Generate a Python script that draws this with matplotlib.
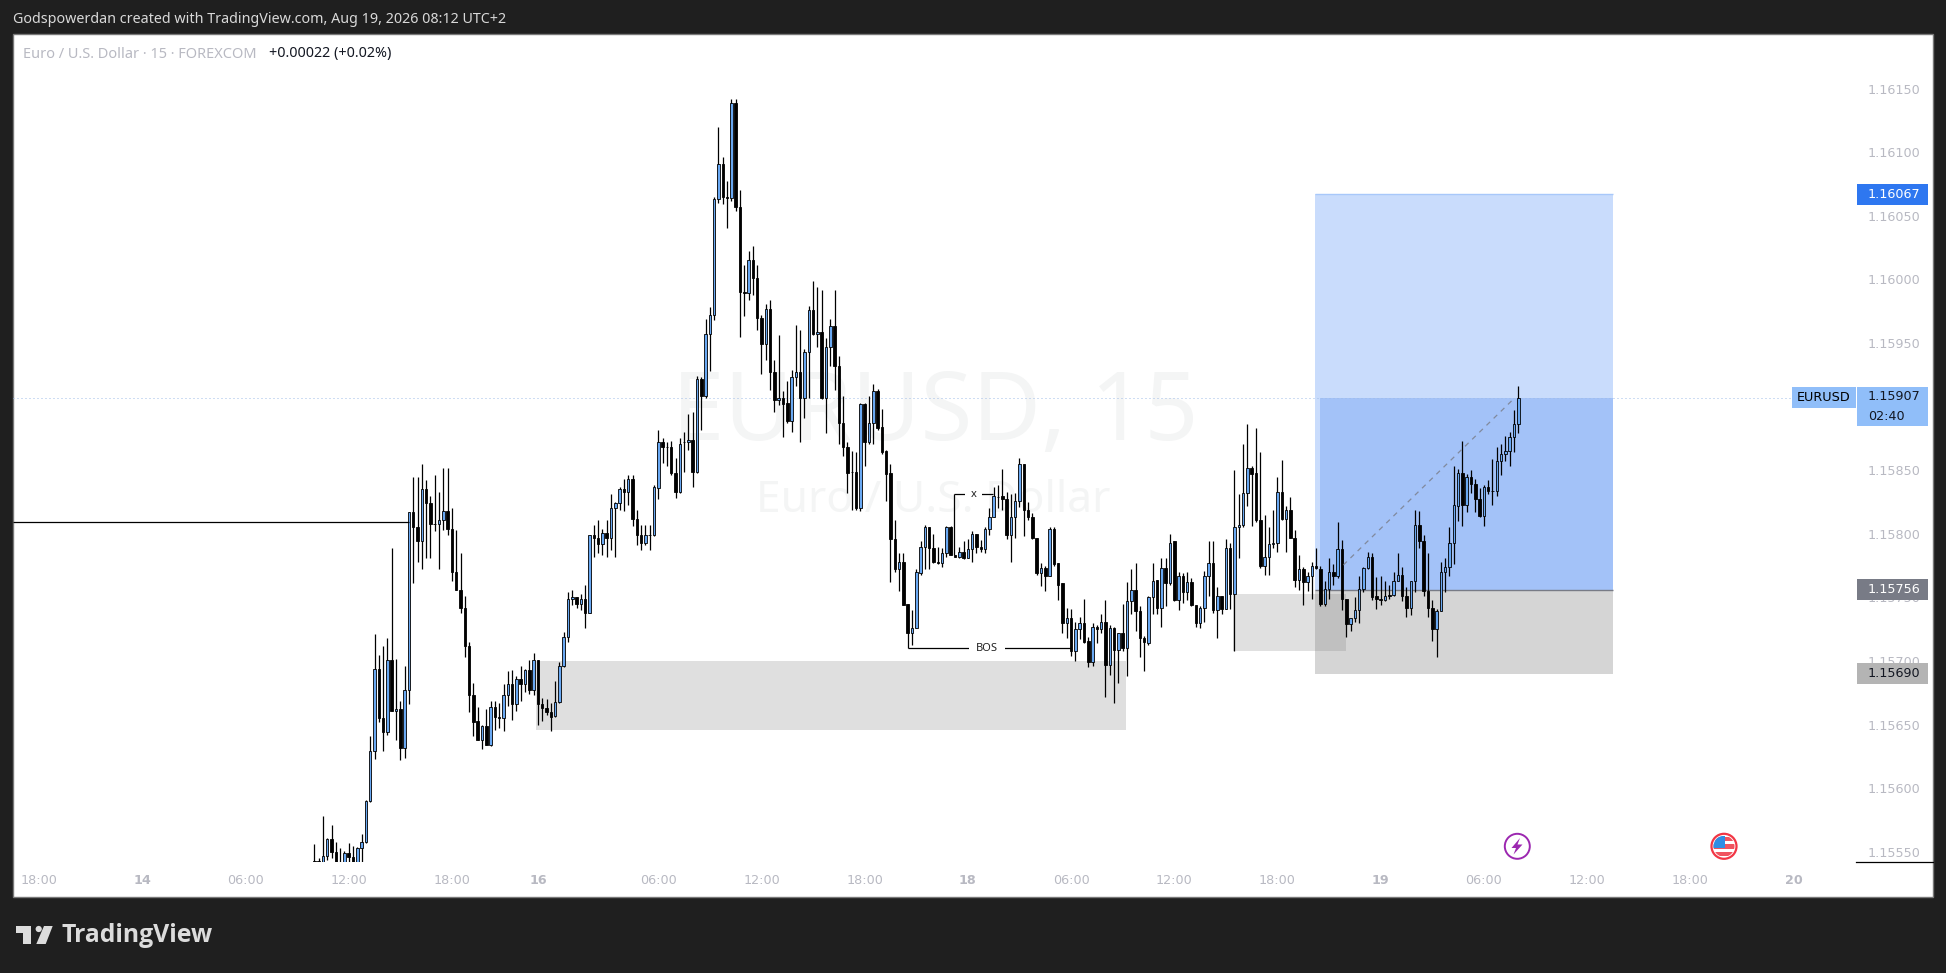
import numpy as np
import matplotlib
matplotlib.use('Agg')
import matplotlib.pyplot as plt
from matplotlib.patches import Rectangle, Polygon, Circle

plt.rcParams['font.family'] = ['Noto Sans', 'DejaVu Sans']

WIDTH, HEIGHT = 1946, 973

# prices in 1e-5 units, one entry per 15 minute bar
opens = [
    115543, 115543, 115535, 115547, 115560, 115550, 115537, 115538, 115549, 115546,
    115536, 115553, 115558, 115590, 115629, 115694, 115655, 115644, 115701, 115661,
    115662, 115632, 115677, 115817, 115805, 115794, 115835, 115824, 115808, 115808,
    115811, 115818, 115804, 115770, 115756, 115742, 115712, 115673, 115653, 115638,
    115649, 115634, 115664, 115656, 115655, 115673, 115682, 115666, 115686, 115682,
    115693, 115677, 115701, 115666, 115663, 115660, 115657, 115668, 115696, 115719,
    115749, 115750, 115745, 115749, 115738, 115799, 115797, 115792, 115801, 115797,
    115820, 115824, 115835, 115833, 115843, 115812, 115799, 115793, 115799, 115799,
    115836, 115872, 115868, 115868, 115848, 115833, 115872, 115872, 115874, 115849,
    115922, 115908, 115957, 115972, 116063, 116091, 116065, 116064, 116139, 116057,
    115990, 115989, 116015, 116001, 115970, 115949, 115977, 115927, 115905, 115907,
    115903, 115889, 115923, 115927, 115907, 115943, 115976, 115957, 115959, 115907,
    115947, 115963, 115932, 115887, 115868, 115849, 115849, 115820, 115902, 115872,
    115887, 115912, 115884, 115865, 115848, 115796, 115772, 115778, 115745, 115722,
    115726, 115769, 115790, 115805, 115789, 115778, 115777, 115785, 115805, 115783,
    115782, 115786, 115781, 115788, 115800, 115790, 115788, 115804, 115813, 115829,
    115830, 115827, 115799, 115813, 115826, 115855, 115819, 115813, 115797, 115769,
    115773, 115767, 115804, 115777, 115761, 115730, 115734, 115708, 115725, 115730,
    115716, 115699, 115727, 115725, 115731, 115697, 115726, 115709, 115722, 115710,
    115747, 115756, 115739, 115718, 115714, 115750, 115764, 115742, 115773, 115761,
    115794, 115748, 115767, 115754, 115762, 115744, 115730, 115742, 115767, 115777,
    115740, 115751, 115741, 115789, 115753, 115805, 115807, 115832, 115852, 115848,
    115811, 115775, 115782, 115792, 115793, 115833, 115812, 115819, 115797, 115764,
    115772, 115762, 115767, 115775, 115772, 115745, 115757, 115770, 115767, 115788,
    115749, 115729, 115734, 115740, 115757, 115773, 115782, 115751, 115749, 115748,
    115752, 115752, 115763, 115768, 115751, 115742, 115763, 115807, 115794, 115755,
    115742, 115725, 115739, 115770, 115774, 115793, 115822, 115848, 115823, 115845,
    115839, 115827, 115814, 115837, 115834, 115834, 115857, 115863, 115865, 115876,
    115886,
]
closes = [
    115542, 115542, 115547, 115560, 115550, 115537, 115538, 115549, 115546, 115536,
    115553, 115558, 115590, 115629, 115694, 115655, 115644, 115701, 115661, 115662,
    115632, 115677, 115817, 115805, 115794, 115835, 115824, 115808, 115808, 115811,
    115818, 115804, 115770, 115756, 115742, 115712, 115673, 115652, 115638, 115649,
    115634, 115664, 115656, 115655, 115673, 115682, 115666, 115686, 115682, 115693,
    115677, 115701, 115666, 115663, 115660, 115656, 115668, 115696, 115719, 115749,
    115750, 115745, 115749, 115738, 115799, 115797, 115792, 115801, 115797, 115820,
    115824, 115835, 115833, 115843, 115812, 115799, 115793, 115799, 115799, 115837,
    115872, 115868, 115868, 115848, 115833, 115871, 115872, 115874, 115849, 115922,
    115908, 115957, 115972, 116063, 116091, 116065, 116064, 116139, 116057, 115990,
    115989, 116015, 116001, 115970, 115949, 115977, 115927, 115905, 115907, 115902,
    115889, 115923, 115927, 115907, 115943, 115976, 115957, 115959, 115907, 115947,
    115963, 115932, 115887, 115868, 115848, 115849, 115820, 115902, 115872, 115887,
    115912, 115883, 115864, 115847, 115796, 115772, 115778, 115744, 115722, 115726,
    115770, 115790, 115805, 115789, 115778, 115777, 115785, 115805, 115783, 115782,
    115786, 115781, 115788, 115800, 115790, 115788, 115804, 115813, 115830, 115829,
    115827, 115799, 115813, 115826, 115855, 115819, 115813, 115797, 115769, 115773,
    115767, 115804, 115776, 115760, 115730, 115734, 115708, 115725, 115730, 115715,
    115699, 115727, 115725, 115731, 115697, 115726, 115709, 115722, 115710, 115747,
    115756, 115739, 115718, 115715, 115750, 115763, 115742, 115773, 115761, 115793,
    115748, 115767, 115754, 115762, 115744, 115730, 115742, 115767, 115777, 115740,
    115751, 115741, 115789, 115753, 115805, 115807, 115832, 115852, 115847, 115811,
    115775, 115782, 115792, 115793, 115833, 115812, 115819, 115797, 115764, 115772,
    115762, 115767, 115775, 115773, 115745, 115757, 115770, 115767, 115788, 115749,
    115729, 115734, 115740, 115757, 115773, 115782, 115750, 115749, 115748, 115751,
    115751, 115763, 115768, 115751, 115742, 115763, 115807, 115794, 115755, 115742,
    115725, 115739, 115770, 115774, 115793, 115823, 115848, 115823, 115845, 115839,
    115827, 115814, 115837, 115834, 115834, 115857, 115863, 115865, 115876, 115886,
    115907,
]
highs = [
    115556, 115545, 115578, 115561, 115571, 115558, 115553, 115551, 115557, 115555,
    115554, 115564, 115591, 115641, 115721, 115705, 115712, 115718, 115789, 115702,
    115669, 115696, 115817, 115845, 115845, 115855, 115842, 115830, 115846, 115833,
    115852, 115852, 115820, 115803, 115785, 115751, 115715, 115683, 115664, 115650,
    115662, 115669, 115669, 115667, 115682, 115692, 115693, 115688, 115696, 115694,
    115701, 115706, 115701, 115671, 115670, 115667, 115684, 115699, 115723, 115754,
    115756, 115750, 115753, 115760, 115799, 115807, 115811, 115804, 115811, 115831,
    115825, 115837, 115843, 115846, 115846, 115819, 115807, 115807, 115807, 115838,
    115882, 115875, 115872, 115873, 115860, 115875, 115880, 115894, 115896, 115924,
    115923, 115969, 115978, 116065, 116120, 116096, 116077, 116142, 116142, 116070,
    116011, 116022, 116026, 116011, 115972, 115981, 115984, 115937, 115956, 115912,
    115920, 115929, 115964, 115960, 115945, 115979, 115999, 115994, 115992, 115954,
    115969, 115992, 115940, 115908, 115872, 115865, 115864, 115903, 115903, 115908,
    115918, 115914, 115898, 115866, 115855, 115811, 115785, 115785, 115745, 115740,
    115772, 115794, 115807, 115805, 115800, 115790, 115789, 115806, 115806, 115783,
    115790, 115794, 115796, 115802, 115800, 115795, 115805, 115820, 115837, 115838,
    115851, 115833, 115831, 115832, 115860, 115855, 115825, 115816, 115797, 115777,
    115775, 115805, 115805, 115777, 115761, 115742, 115741, 115731, 115735, 115749,
    115719, 115730, 115728, 115737, 115748, 115728, 115727, 115722, 115745, 115762,
    115772, 115777, 115743, 115720, 115751, 115777, 115764, 115781, 115781, 115800,
    115794, 115770, 115769, 115770, 115765, 115744, 115743, 115771, 115794, 115794,
    115758, 115751, 115796, 115793, 115850, 115831, 115871, 115886, 115853, 115883,
    115864, 115815, 115805, 115819, 115845, 115858, 115822, 115829, 115803, 115783,
    115774, 115770, 115778, 115789, 115775, 115763, 115781, 115776, 115809, 115795,
    115749, 115734, 115750, 115767, 115774, 115786, 115785, 115766, 115767, 115763,
    115760, 115770, 115785, 115774, 115758, 115763, 115819, 115818, 115799, 115785,
    115748, 115741, 115778, 115781, 115805, 115853, 115851, 115873, 115847, 115850,
    115843, 115836, 115838, 115842, 115859, 115868, 115871, 115877, 115880, 115897,
    115916,
]
lows = [
    115541, 115540, 115530, 115544, 115545, 115530, 115530, 115532, 115535, 115530,
    115532, 115542, 115557, 115589, 115623, 115652, 115629, 115642, 115661, 115638,
    115622, 115624, 115666, 115761, 115778, 115772, 115781, 115781, 115802, 115772,
    115803, 115799, 115763, 115756, 115738, 115703, 115660, 115641, 115638, 115631,
    115634, 115633, 115646, 115647, 115645, 115665, 115654, 115661, 115669, 115676,
    115674, 115673, 115650, 115653, 115658, 115645, 115656, 115667, 115695, 115715,
    115744, 115742, 115740, 115726, 115738, 115782, 115785, 115783, 115782, 115787,
    115782, 115819, 115818, 115823, 115806, 115791, 115787, 115791, 115787, 115798,
    115827, 115856, 115853, 115846, 115828, 115832, 115849, 115866, 115837, 115848,
    115882, 115907, 115928, 115968, 116060, 116059, 116040, 116062, 116054, 115955,
    115971, 115984, 115988, 115960, 115926, 115937, 115913, 115896, 115901, 115876,
    115887, 115880, 115916, 115872, 115891, 115907, 115956, 115947, 115906, 115879,
    115932, 115913, 115871, 115861, 115832, 115819, 115819, 115818, 115853, 115871,
    115871, 115882, 115863, 115826, 115762, 115770, 115755, 115744, 115710, 115713,
    115726, 115768, 115772, 115772, 115777, 115776, 115774, 115782, 115783, 115782,
    115781, 115780, 115781, 115778, 115785, 115786, 115785, 115799, 115813, 115820,
    115819, 115796, 115778, 115797, 115821, 115798, 115811, 115796, 115768, 115759,
    115755, 115767, 115775, 115748, 115722, 115718, 115704, 115700, 115717, 115714,
    115695, 115696, 115714, 115722, 115672, 115689, 115667, 115683, 115708, 115688,
    115737, 115724, 115703, 115692, 115713, 115737, 115737, 115727, 115743, 115760,
    115747, 115740, 115746, 115748, 115743, 115727, 115726, 115731, 115751, 115738,
    115718, 115737, 115741, 115741, 115708, 115781, 115805, 115822, 115806, 115809,
    115773, 115768, 115768, 115789, 115786, 115811, 115786, 115797, 115758, 115756,
    115744, 115755, 115749, 115772, 115743, 115743, 115749, 115760, 115765, 115740,
    115719, 115724, 115731, 115730, 115754, 115772, 115748, 115741, 115744, 115747,
    115749, 115751, 115763, 115747, 115735, 115736, 115754, 115789, 115751, 115735,
    115716, 115703, 115739, 115754, 115767, 115776, 115810, 115806, 115817, 115832,
    115817, 115813, 115806, 115831, 115823, 115830, 115846, 115857, 115853, 115864,
    115879,
]

price_ticks = [1.1555, 1.1560, 1.1565, 1.1570, 1.1575, 1.1580, 1.1585, 1.1590, 1.1595, 1.1600, 1.1605, 1.1610, 1.1615]
time_ticks = [-64, -40, -16, 8, 32, 52, 80, 104, 128, 152, 176, 200, 224, 248, 272, 296, 320, 344]
time_labels = ['18:00', '14', '06:00', '12:00', '18:00', '16', '06:00', '12:00', '18:00',
               '18', '06:00', '12:00', '18:00', '19', '06:00', '12:00', '18:00', '20']
day_labels = ['14', '16', '18', '19', '20']

last_price = 1.15907
target_price = 1.16067
entry_price = 1.15756
stop_price = 1.15690

GRID_TEXT = '#b8b9c2'
BLUE_UP = '#69a8f2'
AXIS_FONT = 'DejaVu Sans'

o = np.array(opens) / 1e5
c = np.array(closes) / 1e5
h = np.array(highs) / 1e5
l = np.array(lows) / 1e5
bars = np.arange(len(o))
up = c >= o


def px_to_bar(x):
    return (x - 314.3) / 4.3


def px_to_price(y):
    return (116219.6 - 0.786 * y) / 1e5


fig = plt.figure(figsize=(WIDTH / 100, HEIGHT / 100), dpi=100, facecolor='#1f1f1f')


def pixel_axes(zorder):
    a = fig.add_axes([0, 0, 1, 1], zorder=zorder)
    a.set_xlim(0, WIDTH)
    a.set_ylim(HEIGHT, 0)
    a.axis('off')
    return a


# white panel, header and logo
back = pixel_axes(0)
back.add_patch(Rectangle((13, 34), 1920, 863, fc='white', ec='#787878', lw=1))
back.text(13, 19.5, 'Godspowerdan created with TradingView.com, Aug 19, 2026 08:12 UTC+2',
          color='#d9d9d9', fontsize=10.3, va='center', ha='left')
back.add_patch(Polygon([(15.7, 926), (30.7, 926), (30.7, 944), (22.7, 944), (22.7, 932.7), (15.7, 932.7)], fc='#dcdcdc'))
back.add_patch(Circle((38.7, 929), 3.1, fc='#dcdcdc'))
back.add_patch(Polygon([(44, 926), (52.7, 926), (45.7, 944), (36.3, 944)], fc='#dcdcdc'))
back.text(62, 936, 'TradingView', color='#dcdcdc', fontsize=17.8, fontweight='bold',
          va='center', ha='left', family='Open Sans')

# main chart
ax = fig.add_axes([13 / WIDTH, 1 - 862 / HEIGHT, (1856 - 13) / WIDTH, (862 - 34) / HEIGHT], zorder=1)
ax.patch.set_alpha(0)
for s in ax.spines.values():
    s.set_visible(False)
ax.set_xlim(px_to_bar(13), px_to_bar(1856))
ax.set_ylim(px_to_price(862), px_to_price(34))

ax.yaxis.tick_right()
ax.set_yticks(price_ticks)
ax.set_yticklabels(['%.5f' % p for p in price_ticks], color=GRID_TEXT, fontsize=9.2, family=AXIS_FONT)
ax.tick_params(axis='y', length=0, pad=8.5)
ax.set_xticks(time_ticks)
ax.set_xticklabels(time_labels, color=GRID_TEXT, fontsize=9.2, family=AXIS_FONT)
for lab in ax.get_xticklabels():
    if lab.get_text() in day_labels:
        lab.set_fontweight('bold')
ax.tick_params(axis='x', length=0, pad=9)

# watermark
ax.text(px_to_bar(935), px_to_price(416), 'EURUSD, 15', color='#f4f5f5', fontsize=67.8,
        ha='center', va='center', zorder=0)
ax.text(px_to_bar(933), px_to_price(501), 'Euro / U.S. Dollar', color='#f4f5f5', fontsize=32,
        ha='center', va='center', zorder=0)

# long position tool
pos_left, pos_right = px_to_bar(1315), px_to_bar(1613)
ax.add_patch(Rectangle((pos_left, entry_price), pos_right - pos_left, target_price - entry_price,
                       fc='#c9dcfc', ec='none', zorder=1))
ax.hlines(target_price, pos_left, pos_right, color='#a8c8fa', lw=1, zorder=1.1)
fill_left = px_to_bar(1320)
ax.add_patch(Rectangle((fill_left, entry_price), pos_right - fill_left, last_price - entry_price,
                       fc='#a3c2f8', ec='none', zorder=1.1))
ax.add_patch(Rectangle((pos_left, stop_price), pos_right - pos_left, entry_price - stop_price,
                       fc='#d5d5d5', ec='none', zorder=1))
ax.hlines(entry_price, pos_left, pos_right, color='#787b86', lw=1, zorder=1.2)

# grey supply / demand boxes
ax.add_patch(Rectangle((px_to_bar(536), 1.15646), px_to_bar(1126) - px_to_bar(536), 0.00054,
                       fc='#808080', alpha=0.25, ec='none', zorder=1.3))
ax.add_patch(Rectangle((px_to_bar(1233.3), 1.15708), px_to_bar(1346) - px_to_bar(1233.3), 0.00045,
                       fc='#808080', alpha=0.24, ec='none', zorder=1.3))

# last price line
ax.hlines(last_price, px_to_bar(13), px_to_bar(1792), color='#9fbce8', lw=0.72,
          linestyles=(0, (1, 3)), zorder=1.4)

# candles
ax.vlines(bars, l, h, color='black', lw=0.9, zorder=3)
ax.bar(bars[up], (c - o)[up], bottom=o[up], width=0.58, color=BLUE_UP, edgecolor='black', lw=0.6, zorder=3.1)
ax.bar(bars[~up], (o - c)[~up], bottom=c[~up], width=0.58, color='black', edgecolor='black', lw=0.6, zorder=3.1)

# drawings
ax.hlines(1.15809, px_to_bar(13), 22, color='black', lw=0.9, zorder=4)
ax.hlines(1.15710, 138, 176, color='black', lw=0.9, zorder=4)
ax.text(156.4, 1.15710, 'BOS', fontsize=8, color='#222222', ha='center', va='center', zorder=4.1,
        bbox=dict(fc='white', ec='none', pad=5))
ax.vlines(148.8, 1.15783, 1.15831, color='black', lw=0.9, zorder=4)
ax.hlines(1.15831, 148.8, 157.9, color='black', lw=0.9, zorder=4)
ax.text(153.4, 1.15831, 'x', fontsize=8, color='#222222', ha='center', va='center', zorder=4.1,
        bbox=dict(fc='white', ec='none', pad=4))
ax.plot([239.3, 279.2], [1.157755, last_price], color='#787b86', lw=0.9, alpha=0.8,
        linestyle=(0, (4, 4)), zorder=4)

# legend line in the pane
front = pixel_axes(2)
front.text(23, 54, 'Euro / U.S. Dollar · 15 · FOREXCOM', color=GRID_TEXT, fontsize=10.5, va='center', ha='left')
front.text(269, 54, '+0.00022 (+0.02%)', color='#131722', fontsize=10.3, va='center', ha='left')

# price tags on the axis


def tag(y0, y1, fill, lines, text_color, x0=1857, x1=1928, x_text=1868):
    front.add_patch(Rectangle((x0, y0), x1 - x0, y1 - y0, fc=fill, ec='none', zorder=5))
    step = (y1 - y0) / len(lines)
    for n, t in enumerate(lines):
        front.text(x_text, y0 + step * (n + 0.5), t, color=text_color, fontsize=9.2, family=AXIS_FONT,
                   va='center', ha='left', zorder=6)


tag(184, 205, '#2e77f0', ['1.16067'], 'white')
tag(387, 426, '#90bef9', ['1.15907', '02:40'], '#131722')
tag(387, 408, '#90bef9', ['EURUSD'], 'black', x0=1792, x1=1856, x_text=1797)
tag(579, 600, '#787b86', ['1.15756'], 'white')
tag(663, 684, '#b4b4b4', ['1.15690'], '#131722')

front.plot([1856, 1933], [862, 862], color='black', lw=0.9)

# event icons
front.add_patch(Circle((1517.3, 846.3), 12.5, fc='white', ec='#9c27b0', lw=1.4))
front.add_patch(Polygon([(1520, 838), (1511.5, 848), (1516, 848), (1513.5, 854.5), (1522.5, 844.5), (1517.5, 844.5)],
                        fc='#9c27b0', ec='none'))
flag_clip = Circle((1724, 846.3), 10.5, transform=front.transData)
front.add_patch(Circle((1724, 846.3), 12.5, fc='white', ec='#f23645', lw=1.6))
for y0, y1 in [(837, 840.5), (844, 848.5), (852, 856)]:
    r = Rectangle((1713, y0), 22, y1 - y0, fc='#f0545f', ec='none')
    front.add_patch(r)
    r.set_clip_path(flag_clip)
canton = Rectangle((1713, 836), 12, 12, fc='#2f8de4', ec='none')
front.add_patch(canton)
canton.set_clip_path(flag_clip)

fig.savefig('out.png', dpi=100, facecolor=fig.get_facecolor())
